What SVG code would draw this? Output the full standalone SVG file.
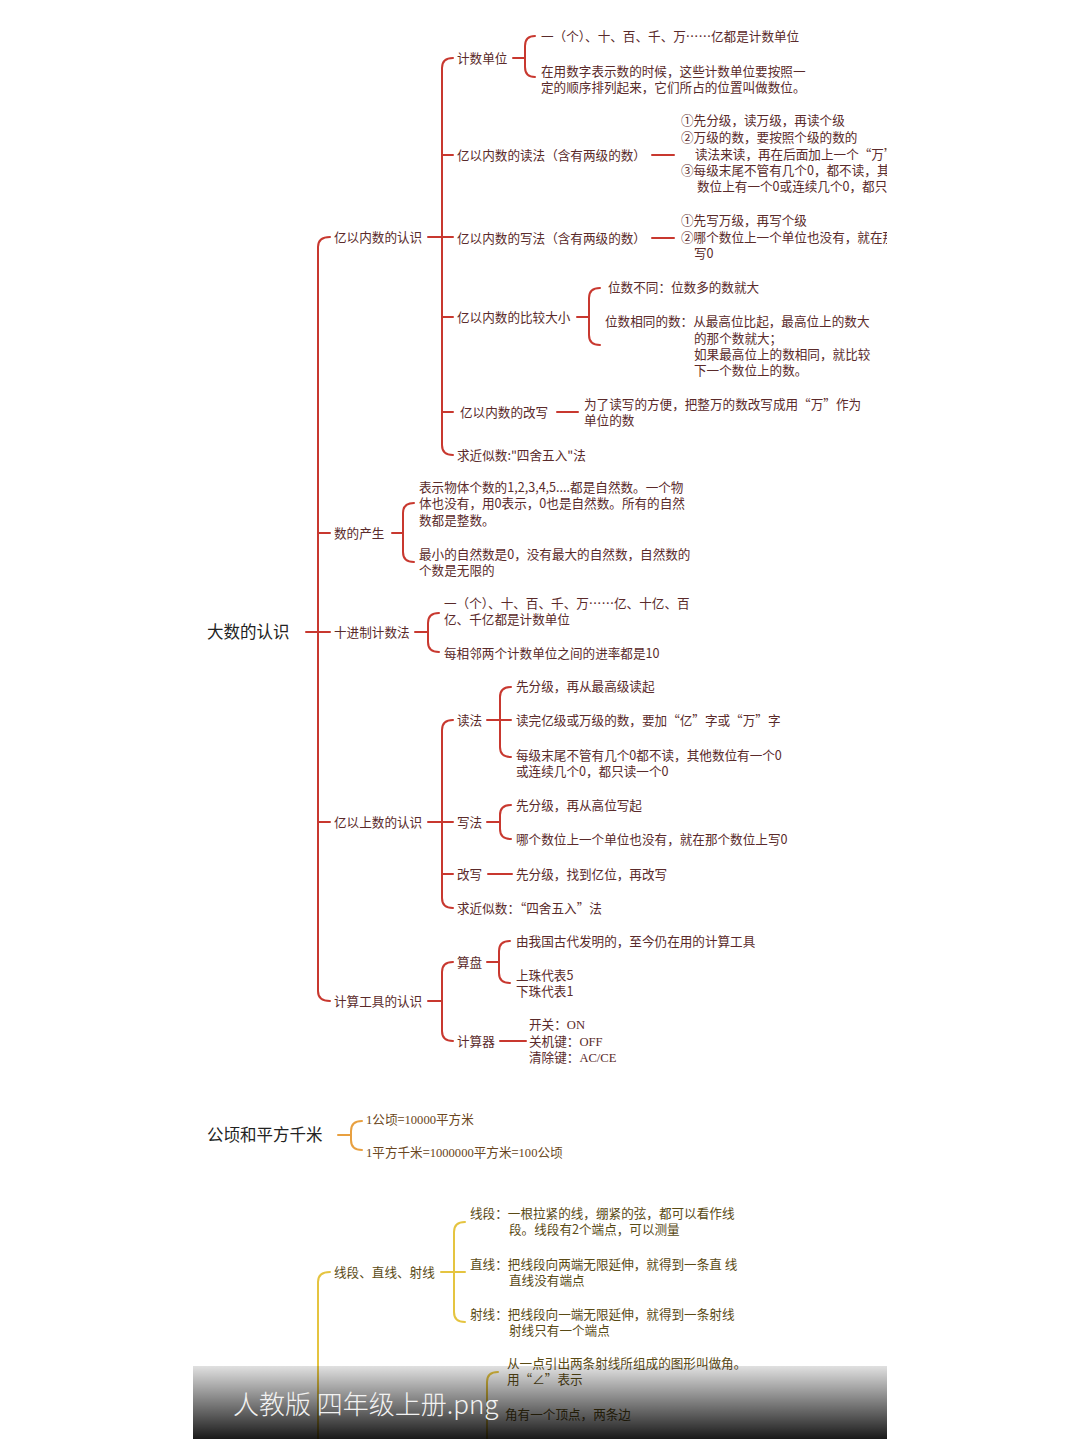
<svg xmlns="http://www.w3.org/2000/svg" width="1080" height="1439" viewBox="0 0 1080 1439">
<defs>
<style>
.t{font-family:"Noto Sans CJK SC","Liberation Sans",sans-serif;font-size:12.6px;fill:#5a2a2a}
.root{font-size:16.5px;fill:#222}
.so{font-family:"Liberation Serif",serif}
.to{fill:#6a4620}
.ty{fill:#5a4a14}
.r{stroke:#c8382f;stroke-width:2;fill:none;stroke-linecap:round}
.o{stroke:#e8a040}
.y{stroke:#e5c440}
.cap{font-family:"Noto Sans CJK SC","Liberation Sans",sans-serif;font-size:26px;fill:#f2f2f2;font-weight:300}
</style>
<clipPath id="clip"><rect x="0" y="0" width="887" height="1439"/></clipPath>
<linearGradient id="shade" x1="0" y1="0" x2="0" y2="1">
<stop offset="0" stop-color="#000" stop-opacity="0.12"/>
<stop offset="1" stop-color="#000" stop-opacity="0.9"/>
</linearGradient>
</defs>
<rect width="1080" height="1439" fill="#fff"/>
<g clip-path="url(#clip)">
<g id="connectors">
<path class="r" d="M306,632 H330"/>
<path class="r" d="M330,237 Q318,237 318,247 V991 Q318,1001 330,1001"/>
<path class="r" d="M318,533 H330 M318,822 H330"/>
<path class="r" d="M428,237 H453"/>
<path class="r" d="M453,58 Q442,58 442,68 V445 Q442,455 453,455"/>
<path class="r" d="M442,155 H453 M442,317 H453 M442,412 H453"/>
<path class="r" d="M513,58 H525"/>
<path class="r" d="M535,36 Q525,36 525,46 V67 Q525,77 535,77"/>
<path class="r" d="M652,155 H674"/>
<path class="r" d="M652,238 H674"/>
<path class="r" d="M577,317 H589"/>
<path class="r" d="M600,288 Q589,288 589,298 V335 Q589,345 600,345"/>
<path class="r" d="M557,412 H578"/>
<path class="r" d="M392,533 H403"/>
<path class="r" d="M414,503 Q403,503 403,513 V552 Q403,562 414,562"/>
<path class="r" d="M415,632 H428"/>
<path class="r" d="M439,613 Q428,613 428,623 V642 Q428,652 439,652"/>
<path class="r" d="M428,822 H453"/>
<path class="r" d="M453,720 Q442,720 442,730 V898 Q442,908 453,908"/>
<path class="r" d="M442,874 H453"/>
<path class="r" d="M487,720 H511"/>
<path class="r" d="M511,687 Q500,687 500,697 V747 Q500,757 511,757"/>
<path class="r" d="M487,822 H500"/>
<path class="r" d="M511,805 Q500,805 500,815 V829 Q500,839 511,839"/>
<path class="r" d="M488,874 H512"/>
<path class="r" d="M428,1001 H442"/>
<path class="r" d="M453,962 Q442,962 442,972 V1031 Q442,1041 453,1041"/>
<path class="r" d="M487,962 H499"/>
<path class="r" d="M510,941 Q499,941 499,951 V973 Q499,983 510,983"/>
<path class="r" d="M500,1041 H526"/>
<path class="r o" d="M338,1135 H351"/>
<path class="r o" d="M362,1121 Q351,1121 351,1131 V1140 Q351,1150 362,1150"/>
<path class="r y" d="M330,1272 Q318,1272 318,1282 V1440"/>
<path class="r y" d="M441,1272 H465"/>
<path class="r y" d="M465,1222 Q454,1222 454,1232 V1312 Q454,1322 465,1322"/>
<path class="r y" d="M498,1372 Q487,1372 487,1382 V1440"/>
</g>
<g id="root"><text class="t root" x="207" y="638">大数的认识</text></g>
<g id="n-yinei"><text class="t" x="334" y="241.5">亿以内数的认识</text></g>
<g id="n-jishudanwei">
<text class="t" x="457" y="62.5">计数单位</text>
<text class="t" x="541" y="40.5">一（个）、十、百、千、万……亿都是计数单位</text>
<text class="t" x="541" y="75.5">在用数字表示数的时候，这些计数单位要按照一<tspan x="541" dy="16">定的顺序排列起来，它们所占的位置叫做数位。</tspan></text>
</g>
<g id="n-dufa1">
<text class="t" x="457" y="159.5">亿以内数的读法（含有两级的数）</text>
<text class="t" x="681" y="125">①先分级，读万级，再读个级<tspan x="681" dy="16.5">②万级的数，要按照个级的数的</tspan><tspan x="695" dy="17">读法来读，再在后面加上一个“万”字</tspan><tspan x="681" dy="16.5">③每级末尾不管有几个0，都不读，其他</tspan><tspan x="697" dy="16">数位上有一个0或连续几个0，都只读一个0</tspan></text>
</g>
<g id="n-xiefa1">
<text class="t" x="457" y="242.5">亿以内数的写法（含有两级的数）</text>
<text class="t" x="681" y="224.5">①先写万级，再写个级<tspan x="681" dy="17">②哪个数位上一个单位也没有，就在那个数位上</tspan><tspan x="694" dy="16.5">写0</tspan></text>
</g>
<g id="n-bijiao">
<text class="t" x="457" y="321.5">亿以内数的比较大小</text>
<text class="t" x="608" y="292">位数不同：位数多的数就大</text>
<text class="t" x="605" y="326">位数相同的数：从最高位比起，最高位上的数大<tspan x="694" dy="16.5">的那个数就大；</tspan><tspan x="694" dy="16.5">如果最高位上的数相同，就比较</tspan><tspan x="694" dy="16">下一个数位上的数。</tspan></text>
</g>
<g id="n-gaixie1">
<text class="t" x="460" y="416.5">亿以内数的改写</text>
<text class="t" x="584" y="408.5">为了读写的方便，把整万的数改写成用“万”作为<tspan x="584" dy="16">单位的数</tspan></text>
</g>
<g id="n-jinsi1"><text class="t" x="457" y="459.5">求近似数:"四舍五入"法</text></g>
<g id="n-chansheng">
<text class="t" x="334" y="537.5">数的产生</text>
<text class="t" x="419" y="491.5">表示物体个数的1,2,3,4,5....都是自然数。一个物<tspan x="419" dy="16">体也没有，用0表示，0也是自然数。所有的自然</tspan><tspan x="419" dy="17">数都是整数。</tspan></text>
<text class="t" x="419" y="558.5">最小的自然数是0，没有最大的自然数，自然数的<tspan x="419" dy="16">个数是无限的</tspan></text>
</g>
<g id="n-shijinzhi">
<text class="t" x="334" y="636.5">十进制计数法</text>
<text class="t" x="444" y="607.5">一（个）、十、百、千、万……亿、十亿、百<tspan x="444" dy="16">亿、千亿都是计数单位</tspan></text>
<text class="t" x="444" y="657.5">每相邻两个计数单位之间的进率都是10</text>
</g>
<g id="n-yishang"><text class="t" x="334" y="826.5">亿以上数的认识</text></g>
<g id="n-dufa2">
<text class="t" x="457" y="724.5">读法</text>
<text class="t" x="516" y="691">先分级，再从最高级读起</text>
<text class="t" x="516" y="724.5">读完亿级或万级的数，要加“亿”字或“万”字</text>
<text class="t" x="516" y="759.5">每级末尾不管有几个0都不读，其他数位有一个0<tspan x="516" dy="16">或连续几个0，都只读一个0</tspan></text>
</g>
<g id="n-xiefa2">
<text class="t" x="457" y="826.5">写法</text>
<text class="t" x="516" y="809.5">先分级，再从高位写起</text>
<text class="t" x="516" y="843.5">哪个数位上一个单位也没有，就在那个数位上写0</text>
</g>
<g id="n-gaixie2">
<text class="t" x="457" y="878.5">改写</text>
<text class="t" x="516" y="878.5">先分级，找到亿位，再改写</text>
</g>
<g id="n-jinsi2"><text class="t" x="457" y="912.5">求近似数：“四舍五入”法</text></g>
<g id="n-gongju"><text class="t" x="334" y="1005.5">计算工具的认识</text></g>
<g id="n-suanpan">
<text class="t" x="457" y="966.5">算盘</text>
<text class="t" x="516" y="945.5">由我国古代发明的，至今仍在用的计算工具</text>
<text class="t" x="516" y="979.5">上珠代表5<tspan x="516" dy="16">下珠代表1</tspan></text>
</g>
<g id="n-jisuanqi">
<text class="t" x="457" y="1046">计算器</text>
<text class="t" x="529" y="1029">开关：<tspan class="so">ON</tspan><tspan x="529" dy="16.5">关机键：</tspan><tspan class="so">OFF</tspan><tspan x="529" dy="16.5">清除键：</tspan><tspan class="so">AC/CE</tspan></text>
</g>
<g id="n-gongqing">
<text class="t root" x="207" y="1141">公顷和平方千米</text>
<text class="t to" x="366" y="1123.5"><tspan class="so">1</tspan>公顷=<tspan class="so">10000</tspan>平方米</text>
<text class="t to" x="366" y="1156.5"><tspan class="so">1</tspan>平方千米=<tspan class="so">1000000</tspan>平方米=<tspan class="so">100</tspan>公顷</text>
</g>
<g id="n-xianduan">
<text class="t ty" x="334" y="1276.5">线段、直线、射线</text>
<text class="t ty" x="470" y="1217.5">线段：一根拉紧的线，绷紧的弦，都可以看作线<tspan x="509" dy="16">段。线段有2个端点，可以测量</tspan></text>
<text class="t ty" x="470" y="1268.5">直线：把线段向两端无限延伸，就得到一条直 线<tspan x="509" dy="16">直线没有端点</tspan></text>
<text class="t ty" x="470" y="1318.5">射线：把线段向一端无限延伸，就得到一条射线<tspan x="509" dy="16">射线只有一个端点</tspan></text>
</g>
<g id="n-jiao">
<text class="t ty" x="507" y="1367.5">从一点引出两条射线所组成的图形叫做角。<tspan x="507" dy="16">用“∠”表示</tspan></text>
<text class="t ty" x="505" y="1419">角有一个顶点，两条边</text>
</g>
<rect x="193" y="1366" width="694" height="73" fill="url(#shade)"/>
<text class="cap" x="233" y="1414">人教版 四年级上册.png</text>
</g>
</svg>
